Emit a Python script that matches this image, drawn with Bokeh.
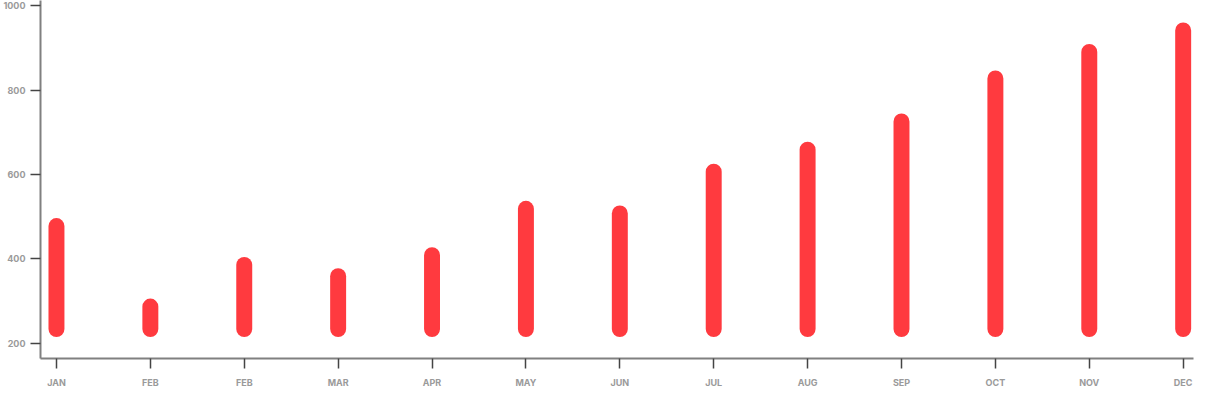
from bokeh.plotting import figure
from bokeh.models import Range1d, FixedTicker, ColumnDataSource
from bokeh.embed import file_html
from bokeh.resources import INLINE

months = ["JAN", "FEB", "FEB", "MAR", "APR", "MAY", "JUN", "JUL", "AUG", "SEP", "OCT", "NOV", "DEC"]
values = [497, 306, 405, 378, 428, 538, 527, 626, 678, 745, 847, 910, 961]
base = 215
y_ticks = [200, 400, 600, 800, 1000]

xs = list(range(len(months)))
src = ColumnDataSource(dict(x=xs, top=values, bottom=[base] * len(values)))

p = figure(width=1207, height=390, output_backend="svg", toolbar_location=None,
           x_range=Range1d(-0.17, len(months) - 1 + 0.11), y_range=Range1d(164, 1013))
p.min_border_top = 0
p.min_border_right = 14
p.min_border_left = 0
p.min_border_bottom = 0
p.outline_line_color = None
p.xgrid.visible = False
p.ygrid.visible = False

p.vbar(x="x", top="top", bottom="bottom", width=0.17, source=src,
       fill_color="#ff3a3f", line_color=None, border_radius=8)

for ax in (p.xaxis[0], p.yaxis[0]):
    ax.axis_line_color = "#808080"
    ax.axis_line_width = 2
    ax.major_tick_line_color = "#444444"
    ax.major_tick_line_width = 1.5
    ax.major_tick_in = 0
    ax.major_tick_out = 10
    ax.minor_tick_line_color = None
    ax.major_label_text_font = "Inter"
    ax.major_label_text_font_size = "9px"
    ax.major_label_text_font_style = "bold"
    ax.major_label_text_color = "#9a9a9a"
    ax.major_label_standoff = 5

p.xaxis.ticker = FixedTicker(ticks=xs)
p.xaxis.major_label_overrides = {i: m for i, m in enumerate(months)}
p.xaxis.major_label_standoff = 8
p.yaxis.ticker = FixedTicker(ticks=y_ticks)

open("out.html", "w").write(file_html(p, INLINE))
